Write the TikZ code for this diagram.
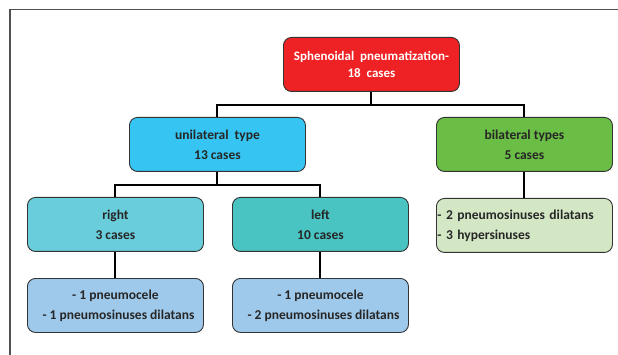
\documentclass[tikz,border=0pt]{standalone}
\usepackage{fontspec}
\setmainfont{Carlito}
\definecolor{cred}{HTML}{EE2224}
\definecolor{cblue}{HTML}{36C5F2}
\definecolor{cgreen}{HTML}{6ABD45}
\definecolor{clgreen}{HTML}{D4E7C5}
\definecolor{cright}{HTML}{6ACDDB}
\definecolor{cleft}{HTML}{4AC3C3}
\definecolor{clow}{HTML}{9FC9EB}
\definecolor{cframe}{HTML}{505050}
\tikzset{
  box/.style={draw=black!80, line width=0.9pt, rounded corners=8pt, minimum width=176pt, minimum height=54pt, anchor=north west, inner sep=0pt, font=\bfseries\fontsize{13.5}{20}\selectfont, align=center, text=black!85},
  conn/.style={line width=2pt, draw=black},
}
\begin{document}
\begin{tikzpicture}[x=1pt,y=-1pt]
\useasboundingbox (0,0) rectangle (618,355);
\fill[white] (0,0) rectangle (618,355);
\draw[cframe, line width=1.5pt] (10,360) -- (10,9.5) -- (625,9.5);
% nodes
\node[box, fill=cred, text=white, font=\bfseries\fontsize{13}{17}\selectfont] (root) at (283,37) {Sphenoidal\ \ pneumatization-\\18\ \ cases};
\node[box, fill=cblue] (uni) at (129,117) {unilateral\ \ type\\13 cases};
\node[box, fill=cgreen] (bi) at (436,117) {bilateral types\\5 cases};
\node[box, fill=cright] (right) at (27,197) {right\\3 cases};
\node[box, fill=cleft] (left) at (232,197) {left\\10 cases};
\node[box, fill=clgreen, align=left, text width=174pt] (bil) at (436,198) {- 2 pneumosinuses dilatans\\- 3 hypersinuses};
\node[box, fill=clow] (rlow) at (27,278) {- 1 pneumocele\\\ \ - 1 pneumosinuses dilatans};
\node[box, fill=clow] (llow) at (232,278) {- 1 pneumocele\\\ \ - 2 pneumosinuses dilatans};
% connectors
\coordinate (b1) at (root.south |- 0,105);
\draw[conn] (root.south) -- (b1);
\draw[conn] (uni.north) -- (uni.north |- b1) -- (bi.north |- b1) -- (bi.north);
\coordinate (b2) at (uni.south |- 0,185);
\draw[conn] (uni.south) -- (b2);
\draw[conn] (right.north) -- (right.north |- b2) -- (left.north |- b2) -- (left.north);
\draw[conn] (bi.south) -- (bil.north);
\draw[conn] (right.south) -- (rlow.north);
\draw[conn] (left.south) -- (llow.north);
\end{tikzpicture}
\end{document}
